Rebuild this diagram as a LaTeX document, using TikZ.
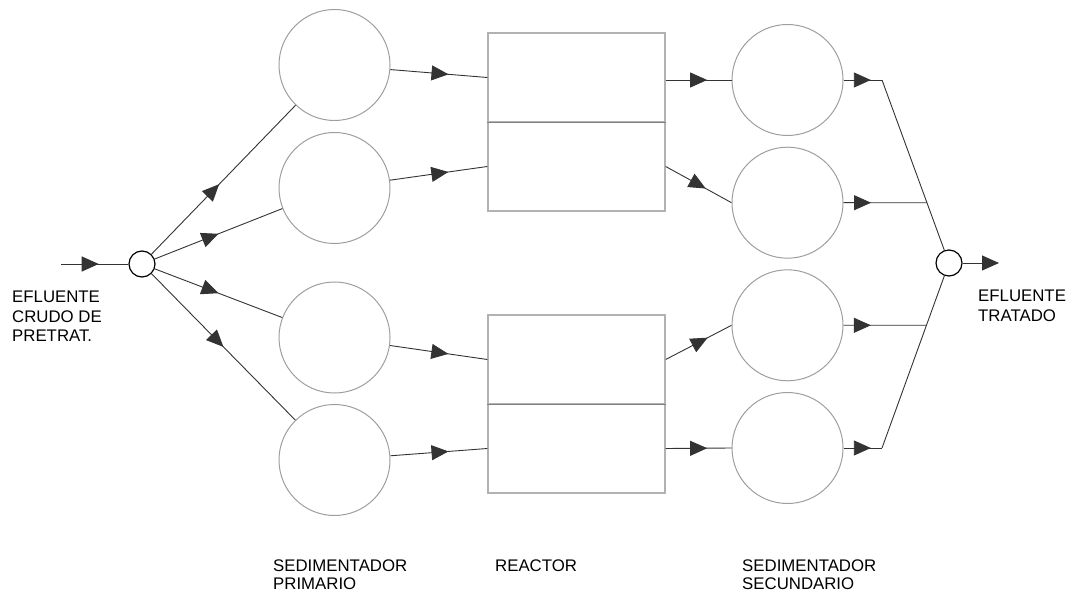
\documentclass[tikz,border=0pt]{standalone}
\usepackage{fontspec}
\setmainfont{Liberation Sans}
\usetikzlibrary{arrows.meta,decorations.markings,calc}
\tikzset{
  tank/.style={circle,draw=black!38,line width=1pt,minimum size=111pt,inner sep=0pt},
  junc/.style={circle,draw=black,line width=1.2pt,minimum size=26pt,inner sep=0pt,fill=white},
  rhalf/.style={rectangle,draw=black!30,line width=1.4pt,minimum width=177pt,minimum height=89pt,inner sep=0pt},
  flow/.style={draw=black!80,line width=0.9pt},
  midarrow/.style={flow,postaction={decorate},decoration={markings,
     mark=at position #1 with {\arrow{Triangle[length=17pt,width=15pt]}}}},
  lbl/.style={anchor=north west,inner sep=0pt,align=left,font=\fontsize{16.8}{19.5}\selectfont},
  blbl/.style={anchor=north west,inner sep=0pt,align=left,font=\fontsize{16.8}{17.5}\selectfont}
}
\begin{document}
\begin{tikzpicture}[x=1pt,y=-1pt]
\useasboundingbox (0,0) rectangle (1070,593);
% junctions
\node[junc] (cin) at (142,264) {};
\node[junc] (cout) at (949,263) {};
% primary settlers
\node[tank] (p1) at (334.5,65) {};
\node[tank] (p2) at (334.5,188) {};
\node[tank] (p3) at (334.5,337.5) {};
\node[tank] (p4) at (334.5,460) {};
% reactors
\node[rhalf] (r1a) at (576.5,77.5) {};
\node[rhalf] (r1b) at (576.5,166.5) {};
\node[rhalf] (r2a) at (576.5,359.5) {};
\node[rhalf] (r2b) at (576.5,448.5) {};
\draw[draw=black!50,line width=1.2pt] (r1a.south west) -- (r1a.south east);
\draw[draw=black!50,line width=1.2pt] (r2a.south west) -- (r2a.south east);
% secondary settlers
\node[tank] (s1) at (787.5,80) {};
\node[tank] (s2) at (787.5,202.7) {};
\node[tank] (s3) at (787.5,325.3) {};
\node[tank] (s4) at (787.5,448) {};
% coordinates
\coordinate (inStart) at (61,264);
\coordinate (outEnd) at (999,263);
\coordinate (j1) at (882,80);
\coordinate (j4) at (882,448);
\coordinate (k2) at (intersection of j1--cout and s2--s2.east);
\coordinate (k3) at (intersection of j4--cout and s3--s3.east);
% input
\draw[midarrow=0.56] (inStart) -- (cin);
% fan out
\draw[midarrow=0.47] (cin) -- (p1);
\draw[midarrow=0.5] (cin) -- (p2);
\draw[midarrow=0.5] (cin) -- (p3);
\draw[midarrow=0.5] (cin) -- (p4);
% primary -> reactor
\draw[midarrow=0.6] (p1) -- (r1a.west);
\draw[midarrow=0.6] (p2) -- (r1b.west);
\draw[midarrow=0.6] (p3) -- (r2a.west);
\draw[midarrow=0.6] (p4) -- (r2b.west);
% reactor -> secondary
\draw[midarrow=0.63] (r1a.east |- s1) -- (s1.west);
\draw[midarrow=0.61] (r1b.east) -- (s2.west);
\draw[midarrow=0.64] (r2a.east) -- (s3.west);
\draw[midarrow=0.63] (r2b.east) -- (s4.west);
% secondary -> collector
\draw[midarrow=0.71] (s1.east) -- (j1);
\draw[midarrow=0.33] (s2.east) -- (k2);
\draw[midarrow=0.33] (s3.east) -- (k3);
\draw[midarrow=0.71] (s4.east) -- (j4);
\draw[flow] (j1) -- (cout);
\draw[flow] (j4) -- (cout);
% output
\draw[flow,-{Triangle[length=17pt,width=15pt]}] (cout) -- (outEnd);
% labels
\node[lbl] (lin) at (12,291) {EFLUENTE\\CRUDO DE\\PRETRAT.};
\node[lbl] (lout) at (978,290) {EFLUENTE\\TRATADO};
\node[blbl] (lp) at (273,560) {SEDIMENTADOR\\PRIMARIO};
\node[blbl] (lr) at (495,560) {REACTOR};
\node[blbl] (ls) at (742,560) {SEDIMENTADOR\\SECUNDARIO};
\end{tikzpicture}
\end{document}
